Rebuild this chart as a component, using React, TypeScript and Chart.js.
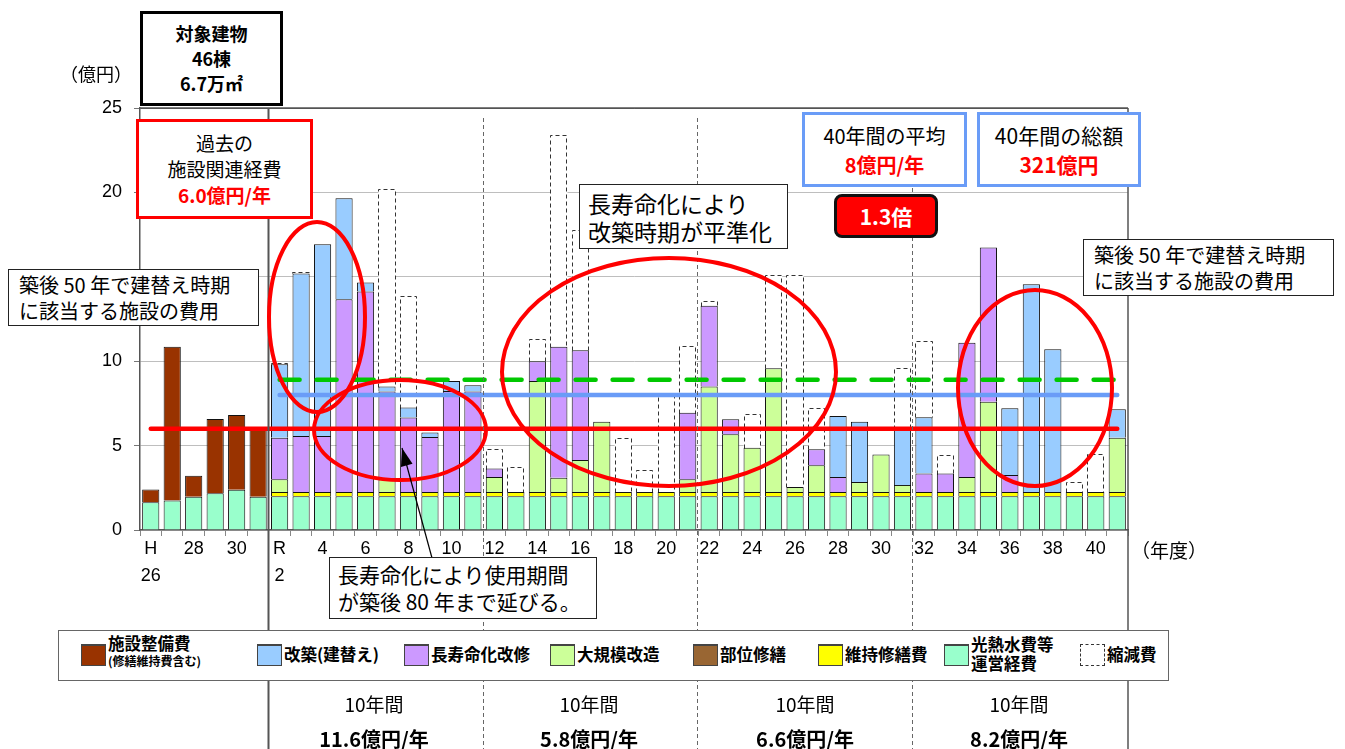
import React, { useEffect, useRef } from 'react';
import { Chart, registerables } from 'chart.js';
Chart.register(...registerables);

// ---------- data ----------
const years = [
  'H26', 'H27', 'H28', 'H29', 'H30', 'R1',
  'R2', 'R3', 'R4', 'R5', 'R6', 'R7', 'R8', 'R9', 'R10', 'R11',
  'R12', 'R13', 'R14', 'R15', 'R16', 'R17', 'R18', 'R19', 'R20', 'R21',
  'R22', 'R23', 'R24', 'R25', 'R26', 'R27', 'R28', 'R29', 'R30', 'R31',
  'R32', 'R33', 'R34', 'R35', 'R36', 'R37', 'R38', 'R39', 'R40', 'R41',
];

const tickLabels: (string | string[])[] = [
  ['H', '26'], '', '28', '', '30', '',
  ['R', '2'], '', '4', '', '6', '', '8', '', '10', '',
  '12', '', '14', '', '16', '', '18', '', '20', '',
  '22', '', '24', '', '26', '', '28', '', '30', '',
  '32', '', '34', '', '36', '', '38', '', '40', '',
];

// 光熱水費等運営経費
const operating = [
  1.65, 1.75, 1.97, 2.17, 2.38, 1.97,
  2.0, 2.0, 2.0, 2.0, 2.0, 2.0, 2.0, 2.0, 2.0, 2.0,
  2.0, 2.0, 2.0, 2.0, 2.0, 2.0, 2.0, 2.0, 2.0, 2.0,
  2.0, 2.0, 2.0, 2.0, 2.0, 2.0, 2.0, 2.0, 2.0, 2.0,
  2.0, 2.0, 2.0, 2.0, 2.0, 2.0, 2.0, 2.0, 2.0, 2.0,
];
// 施設整備費（修繕維持費含む）
const facility = [
  0.75, 9.1, 1.25, 4.4, 4.43, 4.0,
  0, 0, 0, 0, 0, 0, 0, 0, 0, 0,
  0, 0, 0, 0, 0, 0, 0, 0, 0, 0,
  0, 0, 0, 0, 0, 0, 0, 0, 0, 0,
  0, 0, 0, 0, 0, 0, 0, 0, 0, 0,
];
// 維持修繕費
const maintenance = [
  0, 0, 0, 0, 0, 0,
  0.25, 0.25, 0.25, 0.25, 0.25, 0.25, 0.25, 0.25, 0.25, 0.25,
  0.25, 0.25, 0.25, 0.25, 0.25, 0.25, 0.25, 0.25, 0.25, 0.25,
  0.25, 0.25, 0.25, 0.25, 0.25, 0.25, 0.25, 0.25, 0.25, 0.25,
  0.25, 0.25, 0.25, 0.25, 0.25, 0.25, 0.25, 0.25, 0.25, 0.25,
];
// 部位修繕
const partialRepair = [
  0, 0, 0, 0, 0, 0,
  0, 0, 0, 0, 0, 0, 0, 0, 0, 0,
  0, 0, 0, 0, 0, 0, 0, 0, 0, 0,
  0, 0, 0, 0, 0, 0, 0, 0, 0, 0,
  0, 0, 0, 0, 0, 0, 0, 0, 0, 0,
];
// 大規模改造
const majorRenovation = [
  0, 0, 0, 0, 0, 0,
  0.75, 0, 0, 0, 0, 0.75, 0, 0, 0, 0,
  0.89, 0, 6.58, 0.85, 1.9, 4.17, 0, 0, 0, 0.75,
  6.25, 3.42, 2.63, 7.33, 0.3, 1.58, 0, 0.59, 2.22, 0.42,
  0, 0, 0.89, 5.35, 0, 0, 0, 0, 0, 3.22,
];
// 長寿命化改修
const longLife = [
  0, 0, 0, 0, 0, 0,
  2.47, 3.32, 3.32, 11.42, 11.88, 5.2, 4.41, 3.26, 5.99, 5.95,
  0.5, 0, 1.17, 7.75, 6.5, 0, 0, 0, 0, 3.95,
  4.78, 0.89, 0, 0, 0, 0.95, 0.89, 0, 0, 0,
  1.09, 1.09, 7.96, 9.13, 1.01, 0, 0, 0, 0, 0,
];
// 改築（建替え）
const rebuild = [
  0, 0, 0, 0, 0, 0,
  4.35, 9.63, 11.36, 5.99, 0.53, 0.3, 0.59, 0.26, 0.59, 0.38,
  0, 0, 0, 0, 0, 0, 0, 0, 0, 0,
  0, 0, 0, 0, 0, 0, 3.62, 3.58, 0, 3.33,
  3.34, 0, 0, 0, 3.95, 12.31, 8.46, 0, 0, 1.68,
];
// 縮減費
const reduction = [
  0, 0, 0, 0, 0, 0,
  0.1, 0.08, 0, 0, 0, 11.7, 6.62, 0, 0, 0,
  1.14, 1.48, 1.3, 12.55, 7.15, 0, 3.22, 1.29, 5.75, 3.95,
  0.29, 0, 1.98, 5.52, 12.55, 2.47, 0, 0, 0, 3.6,
  4.52, 1.09, 0, 0, 0, 0, 0, 0.59, 2.24, 0,
];

const pastAverage = 6.0; // 過去の施設関連経費
const fortyYearAverage = 8.0; // 40年間の平均
const greenLevel = 8.9;
const firstFutureIndex = 6;

const periodLabels = ['10年間', '10年間', '10年間', '10年間'];
const periodValues = ['11.6億円/年', '5.8億円/年', '6.6億円/年', '8.2億円/年'];

const COLORS = {
  operating: '#99FFCC',
  facility: '#993300',
  maintenance: '#FFFF00',
  partial: '#996633',
  major: '#CCFF99',
  longLife: '#CC99FF',
  rebuild: '#99CCFF',
};

const JP = '"Noto Sans CJK JP", "Noto Sans", sans-serif';
const LAT = '"Liberation Sans", Arial, sans-serif';

const nz = (a: number[]) => a.map((v) => (v ? v : null));
const DASH_INDEX = 7;

const overlayPlugin = {
  id: 'overlayPlugin',
  afterDatasetDraw(chart: any, args: any) {
    if (args.index !== DASH_INDEX) return;
    const ctx = chart.ctx;
    const meta = chart.getDatasetMeta(DASH_INDEX);
    ctx.save();
    ctx.setLineDash([4, 3]);
    ctx.strokeStyle = '#333';
    ctx.lineWidth = 1;
    meta.data.forEach((el: any, i: number) => {
      if (!reduction[i]) return;
      const p = el.getProps(['x', 'y', 'base', 'width'], true);
      const left = Math.round(p.x - p.width / 2) + 0.5;
      const right = Math.round(p.x + p.width / 2) - 0.5;
      const top = Math.round(p.y) + 0.5;
      const bottom = Math.round(p.base) + 0.5;
      ctx.beginPath();
      ctx.moveTo(left, bottom);
      ctx.lineTo(left, top);
      ctx.lineTo(right, top);
      ctx.lineTo(right, bottom);
      ctx.stroke();
    });
    ctx.restore();
  },
  afterDraw(chart: any) {
    const ctx = chart.ctx;
    const xs = chart.scales.x;
    const area = chart.chartArea;
    const bx = (i: number) => (xs.getPixelForValue(i - 1) + xs.getPixelForValue(i)) / 2;
    ctx.save();
    // plot frame (top / right)
    ctx.strokeStyle = '#555';
    ctx.lineWidth = 1.5;
    ctx.beginPath();
    ctx.moveTo(area.left, area.top);
    ctx.lineTo(area.right, area.top);
    ctx.stroke();
    ctx.beginPath();
    ctx.moveTo(area.right, area.top);
    ctx.lineTo(area.right, 749);
    ctx.stroke();
    // solid divider
    const sx = Math.round(bx(firstFutureIndex)) - 0.5;
    ctx.strokeStyle = '#555';
    ctx.lineWidth = 2;
    ctx.beginPath();
    ctx.moveTo(sx, area.top);
    ctx.lineTo(sx, 749);
    ctx.stroke();
    // dashed dividers
    ctx.strokeStyle = '#666';
    ctx.lineWidth = 1;
    ctx.setLineDash([4, 3]);
    [16, 26, 36].forEach((i) => {
      const x = Math.round(bx(i)) - 0.5;
      ctx.beginPath();
      ctx.moveTo(x, area.top + 10);
      ctx.lineTo(x, 749);
      ctx.stroke();
    });
    ctx.setLineDash([]);
    // red ellipses
    ctx.strokeStyle = '#FF0000';
    ctx.lineWidth = 4;
    const ells = [
      [317, 317, 48, 95],
      [400, 430, 86, 50],
      [669, 372, 167, 114],
      [1035, 388, 77, 98],
    ];
    ells.forEach(([cx, cy, rx, ry]) => {
      ctx.beginPath();
      ctx.ellipse(cx, cy, rx, ry, 0, 0, Math.PI * 2);
      ctx.stroke();
    });
    // arrow
    const x1 = 432, y1 = 558, x2 = 402, y2 = 448;
    ctx.strokeStyle = '#000';
    ctx.fillStyle = '#000';
    ctx.lineWidth = 1.2;
    ctx.beginPath();
    ctx.moveTo(x1, y1);
    ctx.lineTo(x2, y2);
    ctx.stroke();
    const ang = Math.atan2(y2 - y1, x2 - x1);
    const hl = 18, hw = 6;
    ctx.beginPath();
    ctx.moveTo(x2, y2);
    ctx.lineTo(x2 - hl * Math.cos(ang) + hw * Math.sin(ang), y2 - hl * Math.sin(ang) - hw * Math.cos(ang));
    ctx.lineTo(x2 - hl * Math.cos(ang) - hw * Math.sin(ang), y2 - hl * Math.sin(ang) + hw * Math.cos(ang));
    ctx.closePath();
    ctx.fill();
    ctx.restore();
  },
};

const barDs = (label: string, data: number[], color: string, extra: any = {}) => ({
  type: 'bar',
  label,
  data: nz(data),
  backgroundColor: color,
  borderColor: '#111',
  borderWidth: 1,
  stack: 's',
  order: 1,
  barPercentage: 0.8,
  categoryPercentage: 1.0,
  ...extra,
});

const abs = (l: number, t: number, w: number, h: number): React.CSSProperties => ({
  position: 'absolute',
  left: l,
  top: t,
  width: w,
  height: h,
  boxSizing: 'border-box',
  background: '#fff',
});

const legendItems = [
  { x: 80, color: COLORS.facility, lines: ['施設整備費'], sub: '(修繕維持費含む)' },
  { x: 256, color: COLORS.rebuild, lines: ['改築(建替え)'] },
  { x: 403, color: COLORS.longLife, lines: ['長寿命化改修'] },
  { x: 549, color: COLORS.major, lines: ['大規模改造'] },
  { x: 692, color: COLORS.partial, lines: ['部位修繕'] },
  { x: 817, color: COLORS.maintenance, lines: ['維持修繕費'] },
  { x: 943, color: COLORS.operating, lines: ['光熱水費等', '運営経費'] },
  { x: 1079, color: '#fff', lines: ['縮減費'], dashed: true },
];

export default function App() {
  const ref = useRef<HTMLCanvasElement>(null);
  useEffect(() => {
    const redLine = years.map(() => pastAverage);
    const blueLine = years.map((_, i) => (i >= firstFutureIndex ? fortyYearAverage : null));
    const greenLine = years.map((_, i) => (i >= firstFutureIndex ? greenLevel : null));
    const chart = new Chart(ref.current as HTMLCanvasElement, {
      type: 'bar',
      data: {
        labels: years,
        datasets: [
          barDs('光熱水費等運営経費', operating, COLORS.operating),
          barDs('施設整備費', facility, COLORS.facility),
          barDs('維持修繕費', maintenance, COLORS.maintenance),
          barDs('部位修繕', partialRepair, COLORS.partial),
          barDs('大規模改造', majorRenovation, COLORS.major),
          barDs('長寿命化改修', longLife, COLORS.longLife),
          barDs('改築（建替え）', rebuild, COLORS.rebuild),
          barDs('縮減費', reduction, '#ffffff', { borderWidth: 0 }),
          {
            type: 'line', label: 'past', data: redLine, borderColor: '#FF0000', borderWidth: 4.5,
            pointRadius: 0, order: 0, borderCapStyle: 'round', stack: 'l1',
          },
          {
            type: 'line', label: 'avg', data: blueLine, borderColor: '#6A9CF7', borderWidth: 4.5,
            pointRadius: 0, order: 0, borderCapStyle: 'round', stack: 'l2',
          },
          {
            type: 'line', label: 'green', data: greenLine, borderColor: '#00C800', borderWidth: 4.5,
            borderDash: [20, 17], pointRadius: 0, order: 0, borderCapStyle: 'round', stack: 'l3',
          },
        ] as any,
      },
      options: {
        responsive: false,
        animation: false,
        devicePixelRatio: 1,
        layout: { padding: { left: 0, top: 108, right: 217, bottom: 159 } },
        plugins: { legend: { display: false }, tooltip: { enabled: false } },
        scales: {
          x: {
            stacked: true,
            afterFit: (s: any) => { s.height = 60; },
            grid: {
              offset: true,
              drawOnChartArea: false,
              drawTicks: true,
              tickLength: 6,
              tickColor: '#888',
            },
            border: { display: true, color: '#555', width: 1.5 },
            ticks: {
              autoSkip: false,
              maxRotation: 0,
              minRotation: 0,
              padding: 0,
              color: '#000',
              font: { family: LAT, size: 18, lineHeight: 1.5 },
              callback: (_v: any, i: number) => tickLabels[i],
            },
          },
          y: {
            stacked: true,
            min: 0,
            max: 25,
            afterFit: (s: any) => { s.width = 140; },
            grid: {
              color: (c: any) => (c.tick && c.tick.value === 25 ? '#555' : '#BEBEBE'),
              tickLength: 6,
              tickColor: '#777',
            },
            border: { display: true, color: '#555', width: 1.5 },
            ticks: {
              stepSize: 5,
              padding: 12,
              color: '#000',
              font: { family: LAT, size: 18 },
            },
          },
        },
      } as any,
      plugins: [overlayPlugin],
    });
    return () => chart.destroy();
  }, []);

  const colCenters = [374, 589, 805, 1019];

  return (
    <div style={{ position: 'absolute', left: 0, top: 0, width: 1345, height: 749, background: '#fff', overflow: 'hidden', fontFamily: JP, color: '#000' }}>
      <canvas ref={ref} width={1345} height={749} style={{ position: 'absolute', left: 0, top: 0 }} />

      {/* unit */}
      <div style={{ position: 'absolute', left: 60, top: 60, fontSize: 18, lineHeight: '26px', whiteSpace: 'nowrap' }}>（億円）</div>
      {/* year unit */}
      <div style={{ position: 'absolute', left: 1131, top: 537, fontSize: 19, lineHeight: '26px', whiteSpace: 'nowrap' }}>（年度）</div>

      {/* target buildings */}
      <div style={{ ...abs(140, 11, 143, 95), border: '3px solid #000', display: 'flex', flexDirection: 'column', alignItems: 'center', justifyContent: 'center', fontWeight: 700, fontSize: 18, lineHeight: '25px' }}>
        <div>対象建物</div>
        <div>46棟</div>
        <div>6.7万㎡</div>
      </div>

      {/* past costs */}
      <div style={{ ...abs(136, 119, 177, 100), border: '3px solid #FF0000', display: 'flex', flexDirection: 'column', alignItems: 'center', justifyContent: 'center', fontSize: 19, lineHeight: '26px' }}>
        <div>過去の</div>
        <div>施設関連経費</div>
        <div style={{ color: '#FF0000', fontWeight: 700 }}>6.0億円/年</div>
      </div>

      {/* left note */}
      <div style={{ ...abs(8, 269, 251, 57), border: '1.5px solid #222', display: 'flex', flexDirection: 'column', justifyContent: 'center', paddingLeft: 10, fontSize: 20, lineHeight: '26px', whiteSpace: 'nowrap' }}>
        <div>築後 50 年で建替え時期</div>
        <div>に該当する施設の費用</div>
      </div>

      {/* center note */}
      <div style={{ ...abs(579, 184, 209, 65), border: '1.5px solid #222', display: 'flex', flexDirection: 'column', justifyContent: 'center', paddingLeft: 8, fontSize: 23, lineHeight: '28px', whiteSpace: 'nowrap' }}>
        <div>長寿命化により</div>
        <div>改築時期が平準化</div>
      </div>

      {/* 40-year average */}
      <div style={{ ...abs(802, 112, 165, 75), border: '3px solid #6A9CF7', display: 'flex', flexDirection: 'column', alignItems: 'center', justifyContent: 'center', fontSize: 20, lineHeight: '29px', whiteSpace: 'nowrap' }}>
        <div>40年間の平均</div>
        <div style={{ color: '#FF0000', fontWeight: 700 }}>8億円/年</div>
      </div>

      {/* 40-year total */}
      <div style={{ ...abs(977, 112, 164, 75), border: '3px solid #6A9CF7', display: 'flex', flexDirection: 'column', alignItems: 'center', justifyContent: 'center', fontSize: 21, lineHeight: '29px', whiteSpace: 'nowrap' }}>
        <div>40年間の総額</div>
        <div style={{ color: '#FF0000', fontWeight: 700 }}>321億円</div>
      </div>

      {/* 1.3x */}
      <div style={{ ...abs(834, 194, 104, 44), background: '#FF0000', border: '3px solid #111', borderRadius: 8, display: 'flex', alignItems: 'center', justifyContent: 'center', color: '#fff', fontWeight: 700, fontSize: 21, fontFamily: JP }}>
        1.3倍
      </div>

      {/* right note */}
      <div style={{ ...abs(1083, 239, 251, 57), border: '1.5px solid #222', display: 'flex', flexDirection: 'column', justifyContent: 'center', paddingLeft: 10, fontSize: 20, lineHeight: '26px', whiteSpace: 'nowrap' }}>
        <div>築後 50 年で建替え時期</div>
        <div>に該当する施設の費用</div>
      </div>

      {/* bottom note */}
      <div style={{ ...abs(329, 557, 268, 62), border: '1.5px solid #222', display: 'flex', flexDirection: 'column', justifyContent: 'center', paddingLeft: 8, fontSize: 21, lineHeight: '27px', whiteSpace: 'nowrap' }}>
        <div>長寿命化により使用期間</div>
        <div>が築後 80 年まで延びる。</div>
      </div>

      {/* legend */}
      <div style={{ ...abs(58, 630, 1111, 51), border: '1px solid #666' }}>
        {legendItems.map((it, k) => (
          <React.Fragment key={k}>
            <div style={{ position: 'absolute', left: it.x - 58, top: 13, width: 25, height: 22, boxSizing: 'border-box', background: it.color, border: it.dashed ? '1.5px dashed #333' : '1px solid #444', borderTop: it.dashed ? '1.5px dashed #333' : '2px solid #444' }} />
            <div style={{ position: 'absolute', left: it.x - 58 + 27, top: it.sub ? 3 : (it.lines.length > 1 ? 4 : 14), fontWeight: 700, fontSize: 16.5, lineHeight: '19px', whiteSpace: 'nowrap' }}>
              {it.lines.map((ln, j) => <div key={j}>{ln}</div>)}
              {it.sub ? <div style={{ fontSize: 12, lineHeight: '16px' }}>{it.sub}</div> : null}
            </div>
          </React.Fragment>
        ))}
      </div>

      {/* period table */}
      {colCenters.map((cx, k) => (
        <React.Fragment key={k}>
          <div style={{ position: 'absolute', left: cx - 90, width: 180, top: 690, textAlign: 'center', fontSize: 19, lineHeight: '28px' }}>{periodLabels[k]}</div>
          <div style={{ position: 'absolute', left: cx - 90, width: 180, top: 725, textAlign: 'center', fontSize: 20, fontWeight: 700, lineHeight: '28px' }}>{periodValues[k]}</div>
        </React.Fragment>
      ))}
    </div>
  );
}
